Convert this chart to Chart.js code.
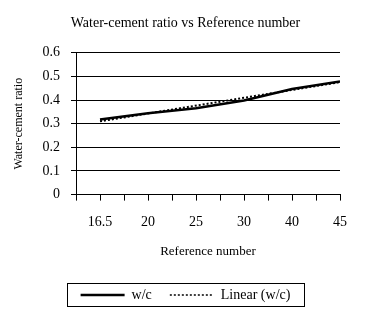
<!DOCTYPE html>
<html>
<head>
<meta charset="utf-8">
<script src="https://cdn.jsdelivr.net/npm/chart.js@4.4.1/dist/chart.umd.min.js"></script>
<style>
  html, body { margin: 0; padding: 0; background: #fff; }
  #wrap { width: 371px; height: 312px; position: relative; }
</style>
</head>
<body>
<div id="wrap"><canvas id="c"></canvas></div>
<script>
/* Números de referencia (eje de categorías) y relación agua/cemento */
const categories = ['16.5', '20', '25', '30', '40', '45'];
const wcValues   = [0.318, 0.344, 0.365, 0.398, 0.447, 0.479];
/* Línea de tendencia: sólo extremos */
const trendValues = [0.31, null, null, null, null, 0.476];
const yTicks = [0, 0.1, 0.2, 0.3, 0.4, 0.5, 0.6];

const FONT = 'Liberation Serif';
const INK  = '#000';

const toPoints = (vals) => vals.map((v, i) => ({ x: i, y: v }));

/* Recuadro alrededor de la leyenda, como en Excel */
const legendBox = {
  id: 'legendBox',
  afterDraw(chart) {
    const l = chart.legend;
    if (!l || !l.legendHitBoxes.length) return;
    const hb = l.legendHitBoxes[0];
    const cy = hb.top + hb.height / 2;
    const ctx = chart.ctx;
    ctx.save();
    ctx.strokeStyle = INK;
    ctx.lineWidth = 1;
    ctx.strokeRect(67.5, Math.round(cy - 12) + 0.5, 237, 23);
    ctx.restore();
  },
};

new Chart(document.getElementById('c').getContext('2d'), {
  type: 'line',
  data: {
    datasets: [
      {
        label: 'w/c',
        data: toPoints(wcValues),
        borderColor: INK,
        borderWidth: 2.5,
        pointRadius: 0,
        tension: 0,
      },
      {
        label: 'Linear (w/c)',
        data: toPoints(trendValues),
        borderColor: INK,
        borderWidth: 2,
        borderDash: [2, 2],
        pointRadius: 0,
        spanGaps: true,
      },
    ],
  },
  options: {
    responsive: true, maintainAspectRatio: false, animation: false,
    layout: { padding: { left: 6, right: 6, top: 6, bottom: 0 } },
    plugins: {
      title: {
        display: true,
        text: 'Water-cement ratio vs Reference number',
        color: INK,
        font: { family: FONT, size: 14, weight: 'normal' },
        padding: { top: 9, bottom: 21 },
      },
      legend: {
        display: true, position: 'bottom',
        labels: {
          color: INK, usePointStyle: true, pointStyle: 'line', pointStyleWidth: 44,
          boxHeight: 10, padding: 18, font: { family: FONT, size: 14 },
          /* con usePointStyle Chart.js no copia borderDash; lo ponemos a mano */
          generateLabels: (chart) =>
            Chart.defaults.plugins.legend.labels.generateLabels(chart).map((it, i) => {
              const ds = chart.data.datasets[i];
              it.lineDash = ds.borderDash || [];
              it.lineWidth = i === 0 ? 2.5 : 1.5;
              return it;
            }),
        },
      },
      tooltip: { enabled: false },
    },
    scales: {
      x: {
        type: 'linear', min: -0.5, max: 5,
        grid: { display: true, drawOnChartArea: false, color: INK, tickLength: 6 },
        border: { color: INK, width: 1 },
        ticks: {
          stepSize: 0.5, autoSkip: false, maxRotation: 0, color: INK, padding: 13,
          font: { family: FONT, size: 14 },
          callback: (v) => Number.isInteger(v) ? categories[v] : '',
        },
        title: {
          display: true, text: 'Reference number', color: INK,
          font: { family: FONT, size: 13 }, padding: { top: 0, bottom: 11 },
        },
      },
      y: {
        min: 0, max: 0.6,
        afterBuildTicks: (s) => { s.ticks = yTicks.map(v => ({ value: v })); },
        afterFit: (s) => { s.width = 70; },
        grid: { color: INK, tickLength: 5 },
        border: { color: INK, width: 1 },
        ticks: {
          color: INK, padding: 11, font: { family: FONT, size: 14 },
          callback: (v) => v === 0 ? '0' : v.toFixed(1),
        },
        title: {
          display: true, text: 'Water-cement ratio', color: INK,
          font: { family: FONT, size: 12 }, padding: { top: 6, bottom: 6 },
        },
      },
      /* eje vacío a la derecha: reserva el margen derecho del área de trazado */
      yRight: {
        position: 'right', display: true,
        afterFit: (s) => { s.width = 25; },
        grid: { display: false }, border: { display: false },
        ticks: { display: false },
      },
    },
  },
  plugins: [legendBox],
});
</script>
</body>
</html>
